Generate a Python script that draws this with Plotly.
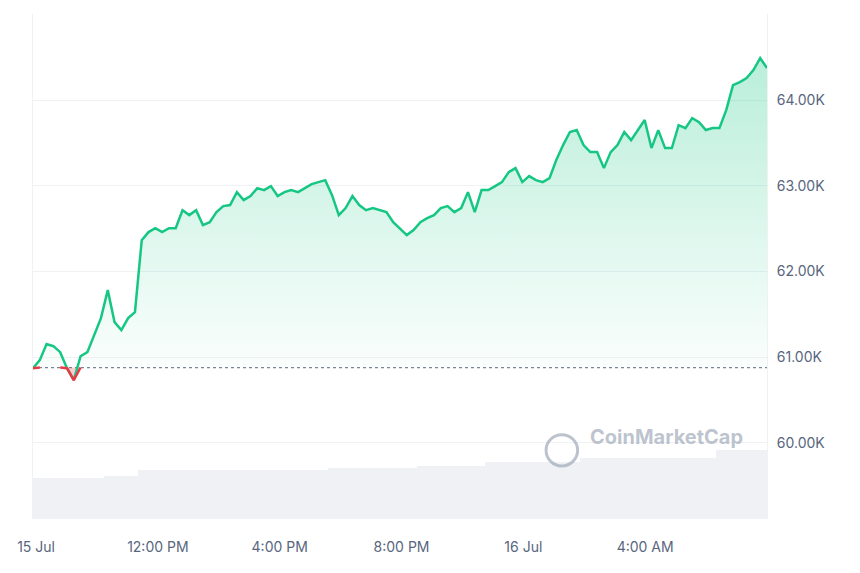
import plotly.graph_objects as go
import pandas as pd
import numpy as np

prices = [60873,60966,61153,61129,61059,60873,60733,61012,61059,61258,61456,61783,61409,61316,61456,61526,
62366,62460,62506,62460,62506,62506,62716,62658,62716,62541,62576,62693,62763,62775,62926,62833,62880,62973,
62950,62996,62880,62926,62950,62926,62973,63020,63043,63066,62891,62658,62740,62880,62775,62716,62740,62716,
62693,62576,62506,62425,62483,62576,62623,62658,62740,62763,62693,62740,62926,62693,62950,62950,62996,63043,
63160,63206,63043,63113,63066,63043,63090,63300,63475,63627,63650,63475,63393,63393,63206,63393,63475,63627,
63533,63650,63767,63440,63650,63440,63440,63708,63673,63790,63743,63650,63673,63673,63883,64175,64210,64257,
64350,64490,64373]
volumes = [28.4]*11 + [30.0]*5 + [34.0]*28 + [35.4]*13 + [36.7]*10 + [39.5]*14 + [42.3]*20 + [47.8]*8
volumes = volumes[:len(prices)]
baseline = 60880
times = pd.date_range("2024-07-15 07:54", "2024-07-16 08:00", periods=len(prices))
tick_vals = pd.to_datetime(["2024-07-15 08:00","2024-07-15 12:00","2024-07-15 16:00","2024-07-15 20:00","2024-07-16 00:00","2024-07-16 04:00"])
tick_text = ["15 Jul","12:00 PM","4:00 PM","8:00 PM","16 Jul","4:00 AM"]
y_ticks = [60000,61000,62000,63000,64000]
y_text = ["60.00K","61.00K","62.00K","63.00K","64.00K"]

p = np.array(prices, dtype=float)
above = np.maximum(p, baseline)
below = np.minimum(p, baseline)
red_line = np.where(p <= baseline + 5, p, np.nan)
for i in range(len(p)):
    if np.isnan(red_line[i]) and ((i > 0 and p[i-1] < baseline) or (i+1 < len(p) and p[i+1] < baseline)):
        red_line[i] = baseline

GREEN = "#16c784"
RED = "#ea3943"
fig = go.Figure()
fig.add_trace(go.Bar(x=times, y=volumes, yaxis="y2", marker=dict(color="#eff1f4", line=dict(width=0)), width=14.2*60*1000, hoverinfo="skip"))
fig.add_trace(go.Scatter(x=times, y=[baseline]*len(p), mode="lines", line=dict(color="rgba(88,102,126,0.8)", width=1.2, dash="dot")))
fig.add_trace(go.Scatter(x=times, y=above, mode="lines", line=dict(width=0), fill="tonexty",
                         fillgradient=dict(type="vertical", colorscale=[[0, "rgba(22,199,132,0.02)"], [1, "rgba(22,199,132,0.3)"]])))
fig.add_trace(go.Scatter(x=times, y=[baseline]*len(p), mode="lines", line=dict(width=0)))
fig.add_trace(go.Scatter(x=times, y=below, mode="lines", line=dict(width=0), fill="tonexty", fillcolor="rgba(234,57,67,0.25)"))
fig.add_trace(go.Scatter(x=times, y=p, mode="lines", line=dict(color=GREEN, width=2.5)))
fig.add_trace(go.Scatter(x=times, y=red_line, mode="lines", line=dict(color=RED, width=2.5)))

fig.update_layout(
    width=852, height=565, showlegend=False, plot_bgcolor="white", paper_bgcolor="white",
    margin=dict(l=25, r=93, t=6, b=54, autoexpand=False), bargap=0,
    font=dict(family="Inter, Noto Sans, sans-serif", color="#58667e", size=14),
    xaxis=dict(range=[times[0], times[-1]], tickvals=tick_vals, ticktext=tick_text, showgrid=False, automargin=False,
               ticks="", ticklabelstandoff=18, showline=False, zeroline=False),
    yaxis=dict(side="right", range=[59113, 65004], tickvals=y_ticks, ticktext=y_text, gridcolor="#eff2f5", automargin=False,
               showline=True, mirror=True, linecolor="#eff2f5", zeroline=False, ticklabelstandoff=6),
    yaxis2=dict(overlaying="y", range=[0, 350], visible=False),
    annotations=[dict(x=0.97, y=0.135, xref="paper", yref="paper", text="<b>CoinMarketCap</b>", showarrow=False,
                      xanchor="right", font=dict(size=20, color="rgba(160,170,185,0.7)"))],
    shapes=[dict(type="circle", xref="paper", yref="paper", x0=0.699, x1=0.742, y0=0.105, y1=0.167,
                 line=dict(color="rgba(160,170,185,0.7)", width=3))],
)
fig.write_html("out.html")
